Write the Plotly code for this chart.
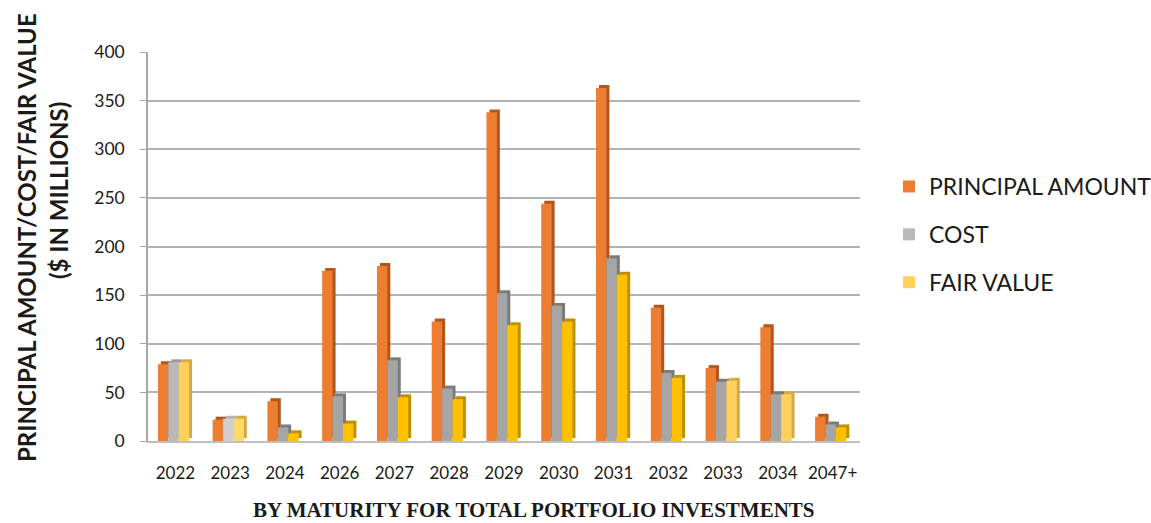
import plotly.graph_objects as go

years = ["2022", "2023", "2024", "2026", "2027", "2028", "2029", "2030", "2031", "2032", "2033", "2034", "2047+"]
principal = [79, 22, 41, 175, 180, 123, 338, 244, 363, 137, 75, 117, 25]
cost = [81, 23, 14, 46, 83, 54, 152, 139, 188, 70, 61, 48, 17]
fair_value = [81, 23, 8, 18, 45, 43, 119, 123, 171, 65, 62, 48, 14]

ORANGE = "#ED7D31"
GRAY = "#A5A5A5"
YELLOW = "#FFC000"

cost_colors = [GRAY] * len(years)
cost_colors[0] = "#B9B9B9"
cost_colors[1] = "#D0CECE"
fv_colors = [YELLOW] * len(years)
fv_colors[0] = "#FFD05A"
fv_colors[1] = "#FFD966"
fv_colors[10] = "#FFD05A"
fv_colors[11] = "#FFD05A"

side_orange = "#B4561C"
side_gray = ["#7B7B7B"] * len(years)
side_gray[0] = "#9A9A9A"
side_gray[1] = "#B5B3B3"
side_yellow = ["#BF9000"] * len(years)
for i in (0, 1, 10, 11):
    side_yellow[i] = "#D4AA45"

W = 0.19
offs = [-0.32, -0.13, 0.06]
dx = 0.055   # 3D side shift (category units)
dy = 3       # 3D top shift (value units)

fig = go.Figure()

# 3D "depth" faces drawn first
for vals, col, off in [(principal, side_orange, offs[0]), (cost, side_gray, offs[1]), (fair_value, side_yellow, offs[2])]:
    fig.add_trace(go.Bar(
        x=years, y=vals, base=dy, width=W, offset=off + dx,
        marker=dict(color=col, line=dict(width=0)),
        showlegend=False, hoverinfo="skip",
    ))

# front faces
fig.add_trace(go.Bar(x=years, y=principal, width=W, offset=offs[0], name="PRINCIPAL AMOUNT",
                     marker=dict(color=ORANGE, line=dict(width=0)), legendgroup="a"))
fig.add_trace(go.Bar(x=years, y=cost, width=W, offset=offs[1], name="COST",
                     marker=dict(color=cost_colors, line=dict(width=0)), legendgroup="b"))
fig.add_trace(go.Bar(x=years, y=fair_value, width=W, offset=offs[2], name="FAIR VALUE",
                     marker=dict(color=fv_colors, line=dict(width=0)), legendgroup="c"))

FONT = "Lato"
L, T, B = 148, 52, 441
PW, PH = 712, B - T


def px(x):
    return (x - L) / PW


def py(y):
    return (B - y) / PH


fig.update_layout(
    width=1151, height=523,
    margin=dict(l=L, r=1151 - L - PW, t=T, b=523 - B, autoexpand=False),
    paper_bgcolor="white", plot_bgcolor="white",
    barmode="overlay",
    showlegend=True,
    legend=dict(
        x=px(889), xanchor="left", y=py(165), yanchor="top",
        font=dict(family=FONT, size=23, color="#1a1a1a"),
        tracegroupgap=15, traceorder="grouped",
        bgcolor="rgba(0,0,0,0)",
    ),
    xaxis=dict(
        type="category", range=[-0.5, 12.5],
        showline=True, linecolor="#BFBFBF", linewidth=1.5,
        showgrid=False, ticks="",
        tickfont=dict(family=FONT, size=17, color="#1a1a1a"),
        ticklabelstandoff=16,
    ),
    yaxis=dict(
        range=[0, 400], dtick=50,
        showline=True, linecolor="#A6A6A6", linewidth=1.5,
        showgrid=True, gridcolor="#B3B3B3", gridwidth=1.5,
        ticks="outside", ticklen=6, tickcolor="#A6A6A6",
        tickfont=dict(family=FONT, size=17.5, color="#1a1a1a"),
        ticklabelstandoff=12,
        zeroline=False,
    ),
    annotations=[
        dict(text="<b>PRINCIPAL AMOUNT/COST/FAIR VALUE</b>",
             xref="paper", yref="paper", x=px(27), y=py(238),
             xanchor="center", yanchor="middle", textangle=-90, showarrow=False,
             font=dict(family=FONT, size=24, color="#1a1a1a")),
        dict(text="<b>($ IN MILLIONS)</b>",
             xref="paper", yref="paper", x=px(58), y=py(191),
             xanchor="center", yanchor="middle", textangle=-90, showarrow=False,
             font=dict(family=FONT, size=24, color="#1a1a1a")),
        dict(text="<b>BY MATURITY FOR TOTAL PORTFOLIO INVESTMENTS</b>",
             xref="paper", yref="paper", x=px(534), y=py(510), borderpad=0,
             xanchor="center", yanchor="middle", showarrow=False,
             font=dict(family="Liberation Serif", size=21, color="#1a1a1a")),
    ],
)

fig.write_html("out.html", config={"displayModeBar": False},
               post_script="document.body.style.margin='0';document.body.style.overflow='hidden';")
